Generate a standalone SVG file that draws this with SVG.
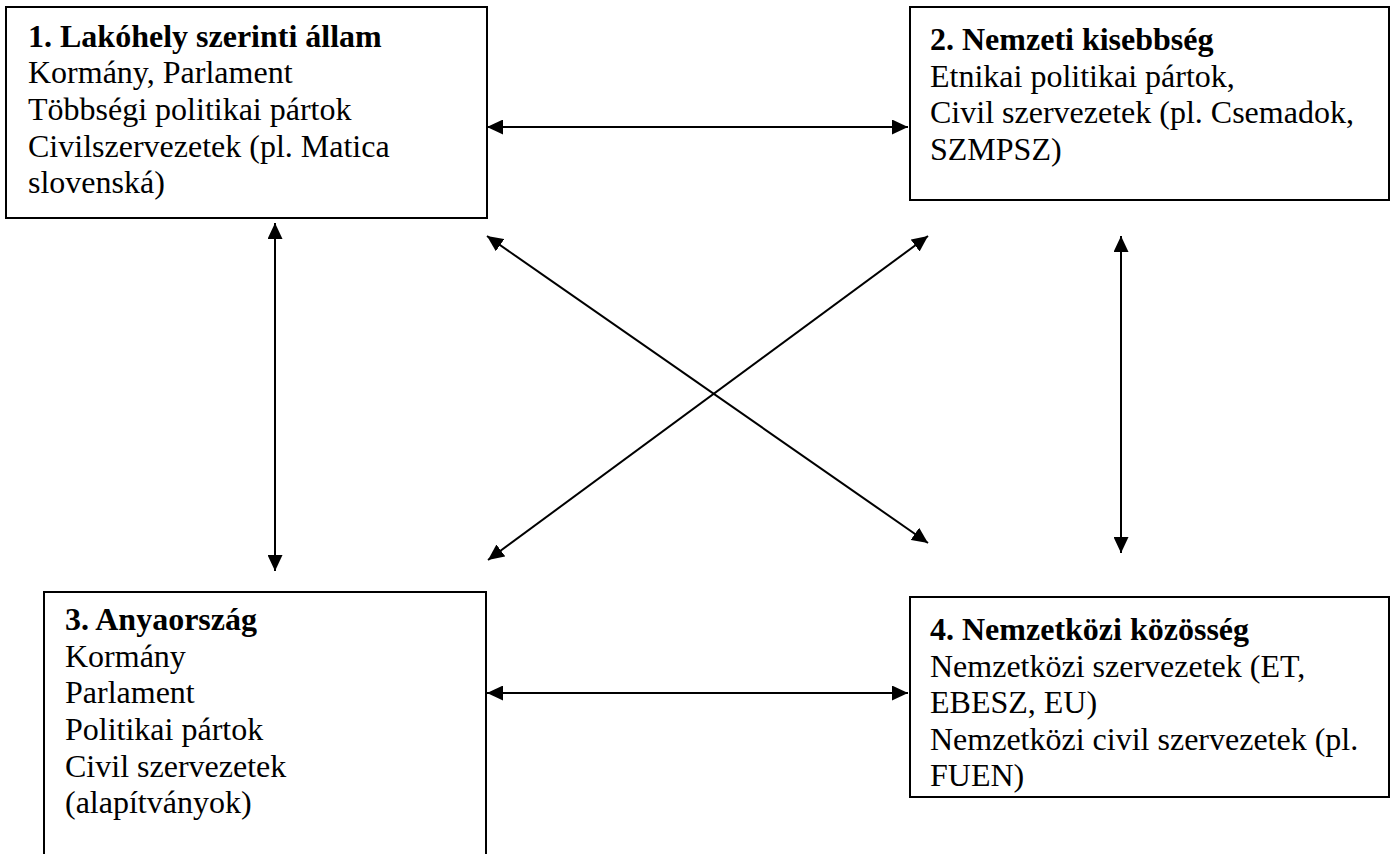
<svg xmlns="http://www.w3.org/2000/svg" width="1397" height="854" viewBox="0 0 1397 854">
<style>
.box{fill:#fff;stroke:#000;stroke-width:2}
.t{font-family:"Liberation Serif","Times New Roman",serif;font-size:32px;fill:#000}
.b{font-weight:bold}
.c{stroke:#000;stroke-width:2;fill:none;marker-start:url(#ah);marker-end:url(#ah)}
</style>
<defs>
<marker id="ah" markerUnits="userSpaceOnUse" markerWidth="16" markerHeight="15" refX="16" refY="7.5" orient="auto-start-reverse">
<path d="M0,0 L16,7.5 L0,15 Z" fill="#000"/>
</marker>
</defs>
<rect width="1397" height="854" fill="#fff"/>
<g id="n1">
<rect class="box" x="6" y="7" width="481" height="211"/>
<text class="t" x="28"><tspan class="b" x="28" y="47">1. Lakóhely szerinti állam</tspan><tspan x="28" y="83">Kormány, Parlament</tspan><tspan x="28" y="120">Többségi politikai pártok</tspan><tspan x="28" y="157">Civilszervezetek (pl. Matica</tspan><tspan x="28" y="193">slovenská)</tspan></text>
</g>
<g id="n2">
<rect class="box" x="910" y="7" width="479" height="193"/>
<text class="t"><tspan class="b" x="930" y="50">2. Nemzeti kisebbség</tspan><tspan x="930" y="87">Etnikai politikai pártok,</tspan><tspan x="930" y="123">Civil szervezetek (pl. Csemadok,</tspan><tspan x="930" y="160">SZMPSZ)</tspan></text>
</g>
<g id="n3">
<rect class="box" x="44" y="592" width="442" height="280"/>
<text class="t"><tspan class="b" x="65" y="630">3. Anyaország</tspan><tspan x="65" y="667">Kormány</tspan><tspan x="65" y="703">Parlament</tspan><tspan x="65" y="740">Politikai pártok</tspan><tspan x="65" y="777">Civil szervezetek</tspan><tspan x="65" y="813">(alapítványok)</tspan></text>
</g>
<g id="n4">
<rect class="box" x="910" y="597" width="479" height="200"/>
<text class="t"><tspan class="b" x="930" y="640">4. Nemzetközi közösség</tspan><tspan x="930" y="677">Nemzetközi szervezetek (ET,</tspan><tspan x="930" y="713">EBESZ, EU)</tspan><tspan x="930" y="750">Nemzetközi civil szervezetek (pl.</tspan><tspan x="930" y="786">FUEN)</tspan></text>
</g>
<g id="connectors">
<line class="c" x1="487" y1="127" x2="908" y2="127"/>
<line class="c" x1="487" y1="693" x2="908" y2="693"/>
<line class="c" x1="275" y1="223" x2="275" y2="571"/>
<line class="c" x1="1121" y1="236" x2="1121" y2="553"/>
<line class="c" x1="487" y1="236" x2="928" y2="543"/>
<line class="c" x1="928" y1="236" x2="488" y2="560"/>
</g>
</svg>
